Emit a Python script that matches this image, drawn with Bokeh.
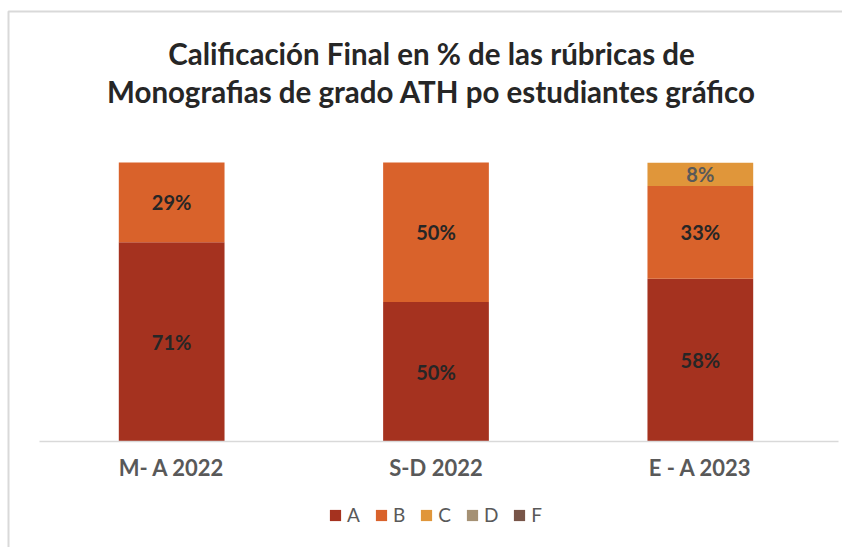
from bokeh.plotting import figure
from bokeh.models import ColumnDataSource, Range1d, Legend, LegendItem
from bokeh.core.properties import value
from bokeh.embed import file_html
from bokeh.resources import INLINE

# ---- data ----
periods = ["M- A 2022", "S-D 2022", "E - A 2023"]
grades = ["A", "B", "C", "D", "F"]
A = [71.4, 50.0, 58.3]
B = [28.6, 50.0, 33.3]
C = [0.0, 0.0, 8.3]
D = [0.0, 0.0, 0.0]
F = [0.0, 0.0, 0.0]
colors = ["#A5321F", "#D9622B", "#E0963A", "#A59174", "#785548"]
label_colors = ["#262626", "#262626", "#595959", "#595959", "#595959"]
title_lines = ["Calificación Final en % de las rúbricas de",
               "Monografias de grado ATH po estudiantes gráfico"]

FONT = "Lato"

# ---- layout constants (canvas pixels) ----
W, H = 842, 547
FRAME_L, FRAME_R, BASE_Y, TOP_Y = 39, 832, 441, 162
n = len(periods)
ppu_x = (FRAME_R - FRAME_L) / n
ppu_y = (BASE_Y - TOP_Y) / 100.0


def px_x(px):
    return (px - FRAME_L) / ppu_x


def px_y(py):
    return (BASE_Y - py) / ppu_y


p = figure(width=W, height=H,
           x_range=Range1d(px_x(0), px_x(W)), y_range=Range1d(px_y(H), px_y(0)),
           output_backend="svg", toolbar_location=None,
           min_border=0)
p.outline_line_color = None
p.grid.visible = False
p.axis.visible = False
p.background_fill_color = "white"
p.border_fill_color = "white"

xs = [i + 0.5 for i in range(n)]
source = ColumnDataSource({"x": xs, "A": A, "B": B, "C": C, "D": D, "F": F})
renderers = p.vbar_stack(grades, x="x", width=0.4, color=colors, line_color=None, source=source)

# data labels
lx, ly, lt, lc = [], [], [], []
series = [A, B, C, D, F]
for i in range(n):
    base = 0
    for j, s in enumerate(series):
        v = s[i]
        if v > 0:
            lx.append(xs[i])
            ly.append(base + v / 2)
            lt.append(f"{round(v)}%")
            lc.append(label_colors[j])
        base += v
lsrc = ColumnDataSource({"x": lx, "y": ly, "t": lt, "c": lc})
p.text(x="x", y="y", text="t", text_color="c", source=lsrc, text_align="center",
       text_baseline="middle", text_font=value(FONT), text_font_style="bold",
       text_font_size="20px")

# category axis: line + labels
p.line(x=[0, px_x(838)], y=[0, 0], line_color="#d9d9d9", line_width=1.5)
p.text(x=xs, y=[px_y(467)] * n, text=periods, text_align="center", text_baseline="middle",
       text_font=value(FONT), text_font_style="bold", text_font_size="22px",
       text_color="#595959")

# title
p.text(x=[px_x(431)] * 2, y=[px_y(53), px_y(91)], text=title_lines, text_align="center",
       text_baseline="middle", text_font=value(FONT), text_font_style="bold",
       text_font_size="29.5px", text_color="#262626")

# chart area border (left and top edges visible)
p.line(x=[px_x(8), px_x(8), px_x(W + 10)], y=[px_y(H + 10), px_y(11), px_y(11)],
       line_color="#d9d9d9", line_width=2)

legend = Legend(items=[LegendItem(label=g, renderers=[r]) for g, r in zip(grades, renderers)],
                orientation="horizontal", location=(328, H - 522 - 4), glyph_width=14, glyph_height=14,
                label_height=14, label_width=12, label_standoff=5, spacing=14, padding=0, margin=0,
                label_text_font=FONT, label_text_font_size="19px", label_text_color="#595959",
                label_text_baseline="middle",
                border_line_color=None, background_fill_alpha=0)
p.add_layout(legend, "center")

open("out.html", "w").write(file_html(p, INLINE))
